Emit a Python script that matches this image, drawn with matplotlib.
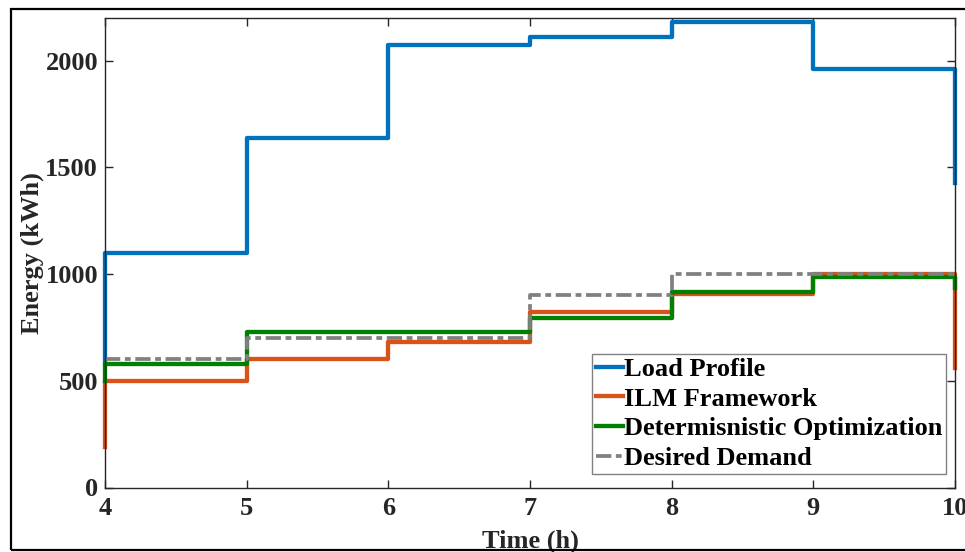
import matplotlib
matplotlib.use("Agg")
import matplotlib.pyplot as plt
import numpy as np
from matplotlib.patches import Rectangle

# hour edges and stair values: [value before 4 h, 4-5, 5-6, 6-7, 7-8, 8-9, 9-10, value after 10 h]
hours = [4, 5, 6, 7, 8, 9, 10]
load_profile = [585, 1100, 1640, 2072, 2109, 2181, 1963, 1425]
ilm_framework = [192, 497, 600, 682, 822, 906, 1000, 561]
deterministic_opt = [497, 580, 728, 730, 794, 918, 985, 935]
desired_demand = [600, 600, 700, 700, 900, 1000, 1000, 1000]

series_labels = ["Load Profile", "ILM Framework", "Determisnistic Optimization", "Desired Demand"]
colors = ["#0072BD", "#D95319", "#008000", "#808080"]

plt.rcParams["font.family"] = ["Liberation Serif", "DejaVu Serif"]
plt.rcParams["font.weight"] = "bold"
plt.rcParams["lines.scale_dashes"] = False


def stair_xy(vals):
    x = np.concatenate([[hours[0]], hours, [hours[-1]]])
    y = np.concatenate([vals, [vals[-1]]])
    return x, y


fig = plt.figure(figsize=(9.65, 5.52), dpi=100)
ax = fig.add_axes([105 / 965, 1 - 487.5 / 552, 850 / 965, 469.5 / 552])

all_series = [load_profile, ilm_framework, deterministic_opt, desired_demand]
for vals, lab, col in zip(all_series, series_labels, colors):
    x, y = stair_xy(np.array(vals, dtype=float))
    if lab == "Desired Demand":
        ax.step(x, y, where="post", color=col, lw=2.7, label=lab, clip_on=False,
                dashes=(11, 3.3, 4.2, 3.3), dash_capstyle="butt")
    else:
        ax.step(x, y, where="post", color=col, lw=3.1, label=lab, clip_on=False)

ax.set_xlim(4, 10)
ax.set_ylim(0, 2200)
ax.set_xticks(hours)
ax.set_yticks([0, 500, 1000, 1500, 2000])

axis_col = "#262626"
for sp in ax.spines.values():
    sp.set_color(axis_col)
    sp.set_linewidth(1.0)
ax.tick_params(direction="in", length=5.8, width=1.0, color=axis_col,
               labelcolor=axis_col, labelsize=19, top=True, right=True)
ax.tick_params(axis="x", pad=7)
ax.tick_params(axis="y", pad=5)

ax.set_xlabel("Time (h)", fontsize=19, fontweight="bold", color=axis_col)
ax.set_ylabel("Energy (kWh)", fontsize=19, fontweight="bold", color=axis_col)
ax.xaxis.set_label_coords(0.5, -0.09)
ax.yaxis.set_label_coords(-0.072, 0.5)

leg = ax.legend(loc="lower right", bbox_to_anchor=(946 / 965, 78 / 552),
                bbox_transform=fig.transFigure, borderaxespad=0,
                fancybox=False, framealpha=1, edgecolor="#808080",
                prop={"size": 19, "weight": "bold"},
                handlelength=1.05, handletextpad=0.02, labelspacing=0.24,
                borderpad=0.14)
leg.get_frame().set_linewidth(1.0)

# outer figure frame
fig.patches.append(Rectangle((11 / 965, 2 / 552), 1.0, 541 / 552,
                             transform=fig.transFigure, fill=False,
                             edgecolor="black", lw=1.6, clip_on=False))

fig.savefig("out.png", dpi=100)
